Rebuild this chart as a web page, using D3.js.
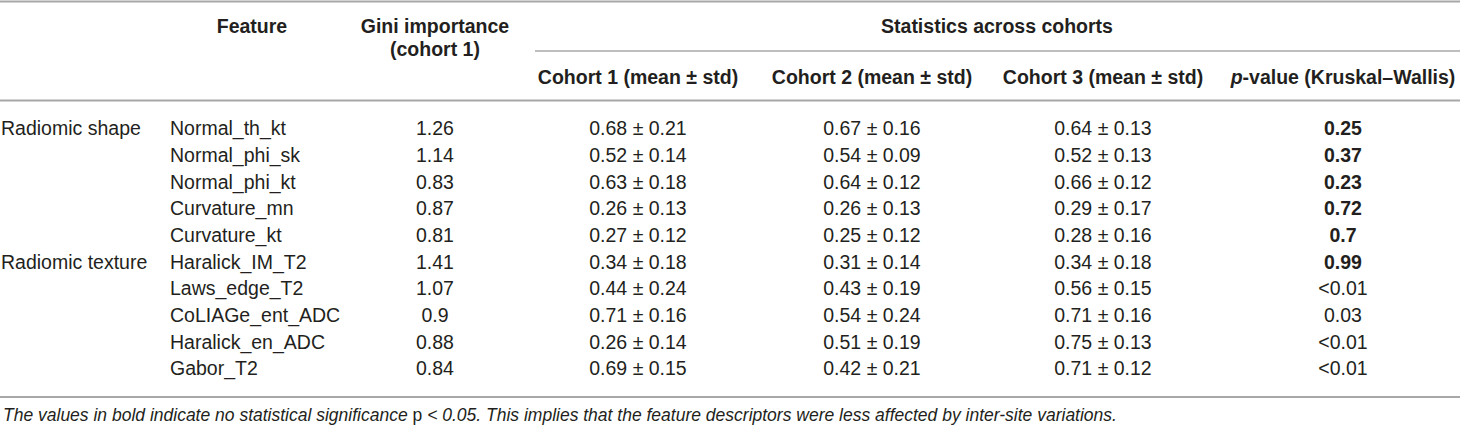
<!DOCTYPE html>
<html>
<head>
<meta charset="utf-8">
<script src="https://cdn.jsdelivr.net/npm/d3@7"></script>
<style>
  html, body { margin: 0; padding: 0; background: #fff; }
  svg { display: block; font-family: "Liberation Sans", Arial, sans-serif; }
</style>
</head>
<body>
<script>
// size of the drawing area
const width = 1460;
const height = 428;

// table contents
const groups = ['Radiomic shape', '', '', '', '', 'Radiomic texture', '', '', '', ''];
const features = ['Normal_th_kt', 'Normal_phi_sk', 'Normal_phi_kt', 'Curvature_mn', 'Curvature_kt',
                  'Haralick_IM_T2', 'Laws_edge_T2', 'CoLIAGe_ent_ADC', 'Haralick_en_ADC', 'Gabor_T2'];
const gini = [1.26, 1.14, 0.83, 0.87, 0.81, 1.41, 1.07, 0.9, 0.88, 0.84];
const c1Mean = [0.68, 0.52, 0.63, 0.26, 0.27, 0.34, 0.44, 0.71, 0.26, 0.69];
const c1Std  = [0.21, 0.14, 0.18, 0.13, 0.12, 0.18, 0.24, 0.16, 0.14, 0.15];
const c2Mean = [0.67, 0.54, 0.64, 0.26, 0.25, 0.31, 0.43, 0.54, 0.51, 0.42];
const c2Std  = [0.16, 0.09, 0.12, 0.13, 0.12, 0.14, 0.19, 0.24, 0.19, 0.21];
const c3Mean = [0.64, 0.52, 0.66, 0.29, 0.28, 0.34, 0.56, 0.71, 0.75, 0.71];
const c3Std  = [0.13, 0.13, 0.12, 0.17, 0.16, 0.18, 0.15, 0.16, 0.13, 0.12];
const pValues = ['0.25', '0.37', '0.23', '0.72', '0.7', '0.99', '<0.01', '0.03', '<0.01', '<0.01'];

const headerCols = ['Cohort 1 (mean ± std)', 'Cohort 2 (mean ± std)', 'Cohort 3 (mean ± std)'];

const fontSize = 19.5;
const textColor = '#231f20';
const ruleColor = '#a8a8a8';
const fmt = d3.format('.2f');

// column centres (group and feature are left aligned)
const colKeys = ['group', 'feature', 'gini', 'c1', 'c2', 'c3', 'p'];
const x = d3.scaleOrdinal().domain(colKeys).range([1, 170, 435, 638, 872, 1103, 1343]);

// rows
const y = d3.scaleBand().domain(d3.range(features.length)).range([115, 382]);
const baseline = i => y(i) + y.bandwidth() / 2 + 6.8;

const rows = features.map((f, i) => ({
    group: groups[i],
    feature: f,
    gini: String(gini[i]),
    c1: fmt(c1Mean[i]) + ' ± ' + fmt(c1Std[i]),
    c2: fmt(c2Mean[i]) + ' ± ' + fmt(c2Std[i]),
    c3: fmt(c3Mean[i]) + ' ± ' + fmt(c3Std[i]),
    p: pValues[i],
    bold: !pValues[i].startsWith('<') && +pValues[i] > 0.05
}));

const svg = d3.select('body').append('svg').attr('width', width).attr('height', height);

// horizontal rules
const rules = [
    {x1: 0, x2: width, y: 1.5, w: 2},
    {x1: 535, x2: width, y: 51, w: 1.6},
    {x1: 0, x2: width, y: 100.5, w: 2},
    {x1: 0, x2: width, y: 397, w: 2}
];
svg.selectAll('line.rule')
    .data(rules)
    .enter()
    .append('line')
    .attr('class', 'rule')
    .attr('x1', d => d.x1)
    .attr('x2', d => d.x2)
    .attr('y1', d => d.y)
    .attr('y2', d => d.y)
    .attr('stroke', ruleColor)
    .attr('stroke-width', d => d.w);

// header
const head = svg.append('g')
    .attr('font-weight', 'bold')
    .attr('font-size', fontSize)
    .attr('fill', textColor)
    .attr('text-anchor', 'middle');

head.append('text').attr('x', 252).attr('y', 33).text('Feature');
head.append('text').attr('x', x('gini')).attr('y', 33).text('Gini importance');
head.append('text').attr('x', x('gini')).attr('y', 56).text('(cohort 1)');
head.append('text').attr('x', (x('c1') - 104 + width) / 2).attr('y', 33).text('Statistics across cohorts');

head.selectAll('text.sub')
    .data(headerCols)
    .enter()
    .append('text')
    .attr('class', 'sub')
    .attr('x', (d, i) => x(['c1', 'c2', 'c3'][i]))
    .attr('y', 84)
    .text(d => d);

const pHead = head.append('text').attr('x', x('p')).attr('y', 84);
pHead.append('tspan').attr('font-style', 'italic').text('p');
pHead.append('tspan').text('-value (Kruskal–Wallis)');

// body
const body = svg.append('g')
    .attr('font-size', fontSize)
    .attr('fill', textColor);

const row = body.selectAll('g.row')
    .data(rows)
    .enter()
    .append('g')
    .attr('class', 'row')
    .attr('transform', (d, i) => 'translate(0,' + baseline(i) + ')');

colKeys.forEach(key => {
    row.append('text')
        .attr('x', x(key))
        .attr('text-anchor', key === 'group' || key === 'feature' ? 'start' : 'middle')
        .attr('font-weight', d => key === 'p' && d.bold ? 'bold' : 'normal')
        .text(d => d[key]);
});

// footnote (the "p" stands upright in the source)
const note = svg.append('text')
    .attr('x', 3)
    .attr('y', 421)
    .attr('font-size', 17.5)
    .attr('font-style', 'italic')
    .attr('fill', textColor);
note.append('tspan').text('The values in bold indicate no statistical significance ');
note.append('tspan').attr('font-style', 'normal').text('p');
note.append('tspan').text(' < 0.05. This implies that the feature descriptors were less affected by inter-site variations.');
</script>
</body>
</html>
